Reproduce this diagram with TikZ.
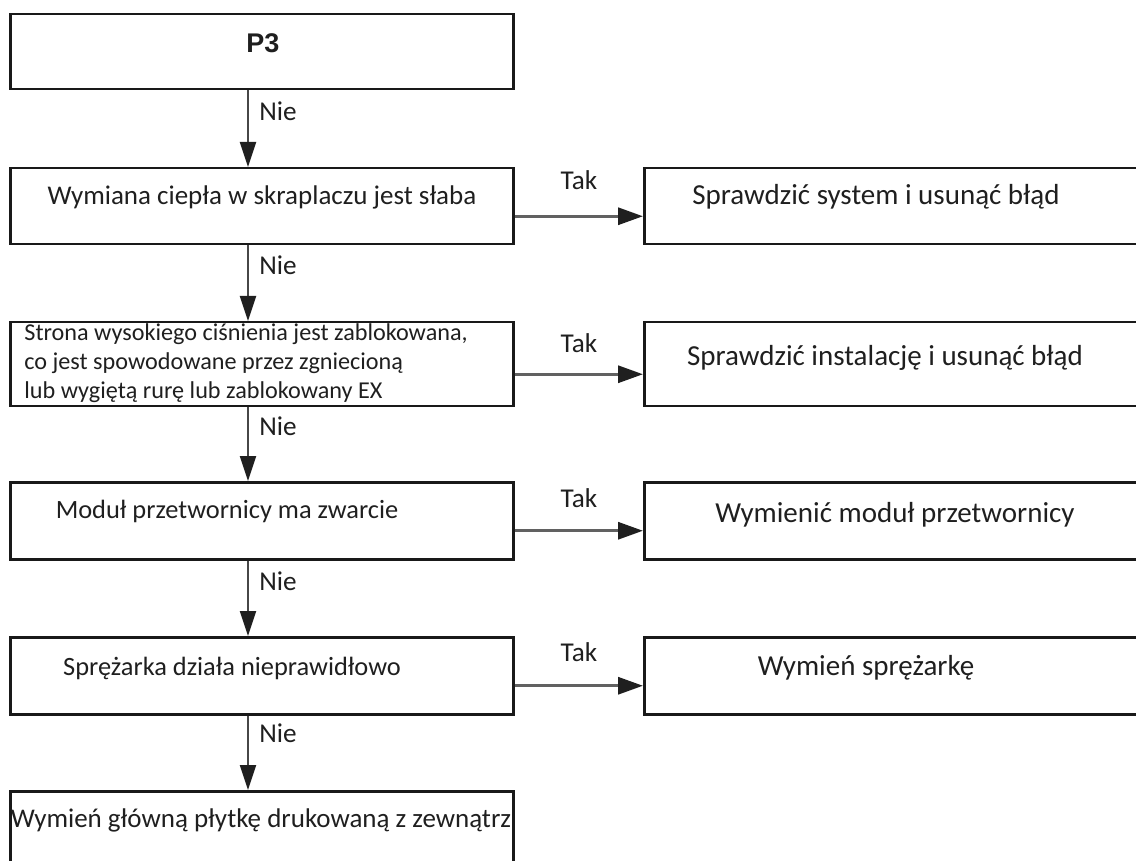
\documentclass[tikz,border=0pt]{standalone}
\usepackage{fontspec}
\setmainfont{Carlito}
\newfontfamily\headfont{Liberation Sans}
\usetikzlibrary{arrows.meta,positioning}

\tikzset{
	box/.style={draw=black!90, line width=1.25pt, inner sep=0pt, anchor=north west},
	txt/.style={inner sep=0pt, anchor=base, font=\fontsize{13.5}{16}\selectfont, text=black!88},
	rtxt/.style={txt, font=\fontsize{14.5}{17}\selectfont},
	nie/.style={-{Triangle[length=12.5pt,width=8pt,color=black!88]}, line width=1pt, draw=black!72},
	tak/.style={-{Triangle[length=12.5pt,width=8.5pt,color=black!88]}, line width=1.6pt, draw=black!62},
	lab/.style={inner sep=0pt, font=\fontsize{13.6}{16}\selectfont, text=black!88},
}

\begin{document}
\begin{tikzpicture}[x=0.5pt, y=-0.5pt]
	%%%%% START %%%%%
	\useasboundingbox (0, 0) rectangle (1136, 861);
	\clip (0, 0) rectangle (1136, 861);
	
	% left column
	\node[box, minimum width=251.5pt, minimum height=37.5pt] (p3) at (9, 13) {};
	\node[box, minimum width=251.5pt, minimum height=38pt] (b1) at (9, 167) {};
	\node[box, minimum width=251.5pt, minimum height=42pt] (b2) at (9, 321) {};
	\node[box, minimum width=251.5pt, minimum height=38.5pt] (b3) at (9, 481) {};
	\node[box, minimum width=251.5pt, minimum height=38.5pt] (b4) at (9, 636) {};
	\node[box, minimum width=251.5pt, minimum height=45pt] (b5) at (9, 790) {};
	
	% right column (runs off the page)
	\node[box, minimum width=253.5pt, minimum height=38pt] (r1) at (643, 167) {};
	\node[box, minimum width=253.5pt, minimum height=42pt] (r2) at (643, 321) {};
	\node[box, minimum width=253.5pt, minimum height=38.5pt] (r3) at (643, 481) {};
	\node[box, minimum width=253.5pt, minimum height=38.5pt] (r4) at (643, 636) {};
	
	% texts
	\node[txt, font=\headfont\bfseries\fontsize{13.5}{15}\selectfont] (p3t) at (263, 53) {P3};
	\node[txt] (b1t) at (262, 205) {Wymiana ciepła w skraplaczu jest słaba};
	\node[txt, anchor=base west, align=left, font=\fontsize{12.1}{14.5}\selectfont] (b2t) at (24, 399) {Strona wysokiego ciśnienia jest zablokowana,\\co jest spowodowane przez zgniecioną\\lub wygiętą rurę lub zablokowany EX};
	\node[txt, font=\fontsize{13.2}{16}\selectfont] (b3t) at (227, 518) {Moduł przetwornicy ma zwarcie};
	\node[txt, font=\fontsize{13.2}{16}\selectfont] (b4t) at (232, 675) {Sprężarka działa nieprawidłowo};
	\node[txt] (b5t) at (261, 827) {Wymień główną płytkę drukowaną z zewnątrz};
	
	\node[rtxt] (r1t) at (876, 205) {Sprawdzić system i usunąć błąd};
	\node[rtxt] (r2t) at (885, 365) {Sprawdzić instalację i usunąć błąd};
	\node[rtxt] (r3t) at (895, 522) {Wymienić moduł przetwornicy};
	\node[rtxt] (r4t) at (866, 675) {Wymień sprężarkę};
	
	% Nie arrows
	\coordinate (ax) at (248, 0);
	\draw[nie] (ax |- p3.south) -- (ax |- b1.north);
	\draw[nie] (ax |- b1.south) -- (ax |- b2.north);
	\draw[nie] (ax |- b2.south) -- (ax |- b3.north);
	\draw[nie] (ax |- b3.south) -- (ax |- b4.north);
	\draw[nie] (ax |- b4.south) -- (ax |- b5.north);
	
	\node[lab, anchor=base west] (n1) at (259, 121) {Nie};
	\node[lab, anchor=base west] (n2) at (259, 275) {Nie};
	\node[lab, anchor=base west] (n3) at (259, 436) {Nie};
	\node[lab, anchor=base west] (n4) at (259, 590) {Nie};
	\node[lab, anchor=base west] (n5) at (259, 742) {Nie};
	
	% Tak arrows
	\draw[tak] ([yshift=-5pt]b1.east) -- ([yshift=-5pt]r1.west);
	\draw[tak] ([yshift=-5pt]b2.east) -- ([yshift=-5pt]r2.west);
	\draw[tak] ([yshift=-5pt]b3.east) -- ([yshift=-5pt]r3.west);
	\draw[tak] ([yshift=-5pt]b4.east) -- ([yshift=-5pt]r4.west);
	
	\node[lab, anchor=base] (t1) at (579, 190) {Tak};
	\node[lab, anchor=base] (t2) at (579, 353) {Tak};
	\node[lab, anchor=base] (t3) at (579, 507) {Tak};
	\node[lab, anchor=base] (t4) at (579, 661) {Tak};
	
	%%%%% END %%%%%
\end{tikzpicture}
\end{document}
